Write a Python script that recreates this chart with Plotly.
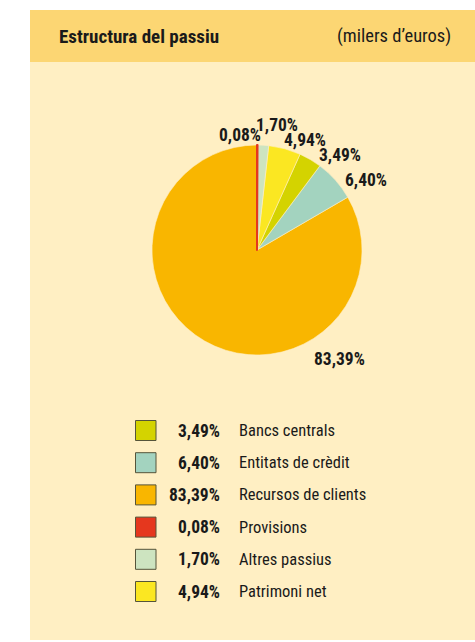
import plotly.graph_objects as go

# ---- data ----
categories = ["Bancs centrals", "Entitats de crèdit", "Recursos de clients",
              "Provisions", "Altres passius", "Patrimoni net"]
values = [3.49, 6.40, 83.39, 0.08, 1.70, 4.94]
value_labels = ["3,49%", "6,40%", "83,39%", "0,08%", "1,70%", "4,94%"]
colors = ["#D4D300", "#A3D3BF", "#F9B600", "#E5371E", "#CDE4C0", "#FBE722"]
# drawn counter-clockwise so that the tiny slice is painted last
pie_order = [2, 1, 0, 5, 4, 3]

title = "Estructura del passiu"
subtitle = "(milers d\u2019euros)"

W, H = 475, 642
FONT = "Roboto Condensed"
TXT = "#1a1a1a"

def px(x):
    return x / W

def py(y):
    return 1 - y / H

fig = go.Figure()

cx, cy, r = 257, 250, 105
pie_vals = [values[i] for i in pie_order]
# in counter-clockwise mode the first slice ends at the rotation angle;
# rotate so that the small slices start at 12 o'clock going clockwise
rot = 360.0 * sum(pie_vals[1:]) / sum(pie_vals)

fig.add_trace(go.Pie(
    labels=[categories[i] for i in pie_order],
    values=pie_vals,
    marker=dict(colors=[colors[i] for i in pie_order],
                line=dict(color=["#FFEFC3" if i != 3 else colors[3] for i in pie_order],
                          width=[0.6 if i != 3 else 2.0 for i in pie_order])),
    sort=False, direction="counterclockwise", rotation=rot,
    textinfo="none", hoverinfo="label+percent", showlegend=False,
    domain=dict(x=[px(cx - r), px(cx + r)], y=[py(cy + r), py(cy - r)]),
))

# outside percent label offsets (pixels from pie centre)
label_offsets = {3: (-17, -115), 4: (20, -125), 5: (48, -110),
                 0: (83, -95), 1: (109, -70), 2: (82, 109)}

shapes = [
    dict(type="rect", xref="paper", yref="paper", x0=px(30), x1=px(476),
         y0=py(640), y1=py(62), fillcolor="#FFEFC3", line=dict(width=0), layer="below"),
    dict(type="rect", xref="paper", yref="paper", x0=px(30), x1=px(476),
         y0=py(62), y1=py(10), fillcolor="#FCD673", line=dict(width=0), layer="below"),
]
annotations = [
    dict(text="<b>" + title + "</b>", x=px(57), y=py(36), xref="paper", yref="paper",
         xanchor="left", yanchor="middle", showarrow=False,
         font=dict(family=FONT, size=19, color=TXT)),
    dict(text=subtitle, x=px(453), y=py(36), xref="paper", yref="paper",
         xanchor="right", yanchor="middle", showarrow=False,
         font=dict(family=FONT, size=18.5, color=TXT)),
]

for i, (dx, dy) in label_offsets.items():
    annotations.append(dict(
        text="<b>" + value_labels[i] + "</b>", x=px(cx + dx), y=py(cy + dy),
        xref="paper", yref="paper", xanchor="center", yanchor="middle",
        showarrow=False, font=dict(family=FONT, size=17.5, color=TXT)))

# custom legend
row0, step = 430.5, 32.2
for k, name in enumerate(categories):
    yc = row0 + k * step
    shapes.append(dict(type="rect", xref="paper", yref="paper",
                       x0=px(135.5), x1=px(156), y0=py(yc + 10), y1=py(yc - 10),
                       fillcolor=colors[k], line=dict(color="#55543a", width=1)))
    annotations.append(dict(text="<b>" + value_labels[k] + "</b>", x=px(222), y=py(yc),
                            xref="paper", yref="paper", xanchor="right", yanchor="middle",
                            showarrow=False, font=dict(family=FONT, size=17.5, color=TXT)))
    annotations.append(dict(text=name, x=px(237), y=py(yc),
                            xref="paper", yref="paper", xanchor="left", yanchor="middle",
                            showarrow=False, font=dict(family=FONT, size=16.5, color=TXT)))

fig.update_layout(
    width=W, height=H, margin=dict(l=0, r=0, t=0, b=0),
    paper_bgcolor="white", plot_bgcolor="white",
    shapes=shapes, annotations=annotations, showlegend=False,
)

fig.write_html("out.html", config={"displayModeBar": False},
               post_script="document.body.style.margin='0px';")
